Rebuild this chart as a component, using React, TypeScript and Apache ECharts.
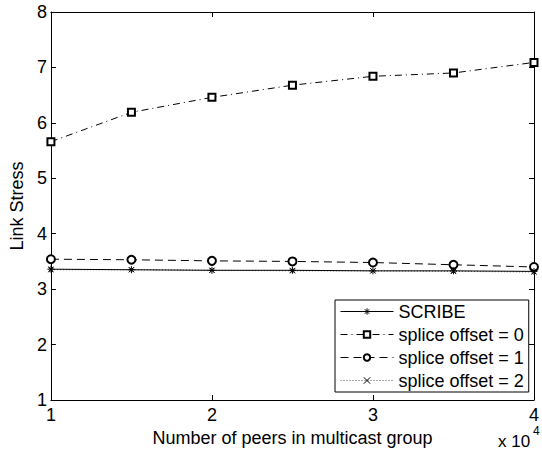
import React, { useEffect, useRef } from 'react';
import * as echarts from 'echarts';

const peers = [1, 1.5, 2, 2.5, 3, 3.5, 4];
const scribe = [3.36, 3.35, 3.34, 3.34, 3.33, 3.33, 3.32];
const offset0 = [5.66, 6.19, 6.46, 6.68, 6.84, 6.9, 7.09];
const offset1 = [3.54, 3.53, 3.51, 3.5, 3.48, 3.44, 3.4];
const offset2 = [3.35, 3.35, 3.34, 3.33, 3.33, 3.32, 3.31];
const seriesNames = ['SCRIBE', 'splice offset = 0', 'splice offset = 1', 'splice offset = 2'];
const xTicks = [1, 2, 3, 4];
const yTicks = [1, 2, 3, 4, 5, 6, 7, 8];

const FONT = 'Liberation Sans, Arial, Helvetica, sans-serif';
const ASTERISK = 'path://M0,5L10,5M5,0L5,10M1.5,1.5L8.5,8.5M1.5,8.5L8.5,1.5';
const CROSS = 'path://M0,0L10,10M0,10L10,0';

export default function App() {
  const ref = useRef<HTMLDivElement>(null);
  useEffect(() => {
    if (!ref.current) return;
    const chart = echarts.init(ref.current, undefined, { renderer: 'svg' });
    const pair = (ys: number[]) => peers.map((x, i) => [x, ys[i]]);
    const axisCommon = {
      type: 'value' as const,
      axisLine: { show: true, lineStyle: { color: '#000', width: 1 } },
      axisTick: { show: true, inside: true, length: 5, lineStyle: { color: '#000' } },
      splitLine: { show: false },
    };
    chart.setOption({
      animation: false,
      backgroundColor: '#fff',
      textStyle: { fontFamily: FONT, color: '#000' },
      grid: { left: 46, right: 3, top: 12, bottom: 53, containLabel: false },
      xAxis: [
        {
          ...axisCommon,
          min: xTicks[0],
          max: xTicks[xTicks.length - 1],
          interval: 1,
          position: 'bottom',
          axisLabel: { color: '#000', fontSize: 18, margin: 6, fontFamily: FONT },
          name: 'Number of peers in multicast group',
          nameLocation: 'middle',
          nameGap: 28,
          nameTextStyle: { color: '#000', fontSize: 18, fontFamily: FONT },
        },
        {
          ...axisCommon,
          min: xTicks[0],
          max: xTicks[xTicks.length - 1],
          interval: 1,
          position: 'top',
          axisLabel: { show: false },
        },
      ],
      yAxis: [
        {
          ...axisCommon,
          min: yTicks[0],
          max: yTicks[yTicks.length - 1],
          interval: 1,
          position: 'left',
          axisLabel: { color: '#000', fontSize: 18, margin: 4, fontFamily: FONT },
          name: 'Link Stress',
          nameLocation: 'middle',
          nameGap: 22,
          nameTextStyle: { color: '#000', fontSize: 18, fontFamily: FONT },
        },
        {
          ...axisCommon,
          min: yTicks[0],
          max: yTicks[yTicks.length - 1],
          interval: 1,
          position: 'right',
          axisLabel: { show: false },
        },
      ],
      legend: {
        orient: 'vertical',
        left: 335,
        top: 300,
        data: seriesNames,
        backgroundColor: '#fff',
        borderColor: '#000',
        borderWidth: 1,
        borderRadius: 0,
        padding: [1, 5, 1, 5],
        itemWidth: 53,
        itemHeight: 8,
        itemGap: 2,
        lineStyle: { width: 1 },
        itemStyle: { borderWidth: 1 },
        textStyle: { color: '#000', fontSize: 18, lineHeight: 21, fontFamily: FONT },
      },
      graphic: [
        { type: 'text', left: 498, top: 433, style: { text: 'x 10', fontSize: 17, fontFamily: FONT, fill: '#000' } },
        { type: 'text', left: 533, top: 425, style: { text: '4', fontSize: 12, fontFamily: FONT, fill: '#000' } },
      ],
      series: [
        {
          name: seriesNames[0],
          type: 'line',
          data: pair(scribe),
          symbol: ASTERISK,
          symbolSize: 7,
          lineStyle: { color: '#000', width: 1, type: 'solid' },
          itemStyle: { color: '#000', borderColor: '#000', borderWidth: 1 },
          z: 4,
        },
        {
          name: seriesNames[1],
          type: 'line',
          data: pair(offset0),
          symbol: 'emptyRect',
          symbolSize: 7,
          lineStyle: { color: '#000', width: 1, type: [7, 4, 1, 4] },
          itemStyle: { color: '#000', borderColor: '#000', borderWidth: 0.9 },
        },
        {
          name: seriesNames[2],
          type: 'line',
          data: pair(offset1),
          symbol: 'emptyCircle',
          symbolSize: 8,
          lineStyle: { color: '#000', width: 1, type: [8, 5] },
          itemStyle: { color: '#000', borderColor: '#000', borderWidth: 0.9 },
        },
        {
          name: seriesNames[3],
          type: 'line',
          data: pair(offset2),
          symbol: CROSS,
          symbolSize: 5,
          lineStyle: { color: '#555', width: 1, type: [1, 2] },
          itemStyle: { color: '#000', borderColor: '#000', borderWidth: 1 },
          z: 3,
        },
      ],
    });
    return () => chart.dispose();
  }, []);
  return <div ref={ref} style={{ width: 542, height: 453, position: 'absolute', left: 0, top: 0 }} />;
}
